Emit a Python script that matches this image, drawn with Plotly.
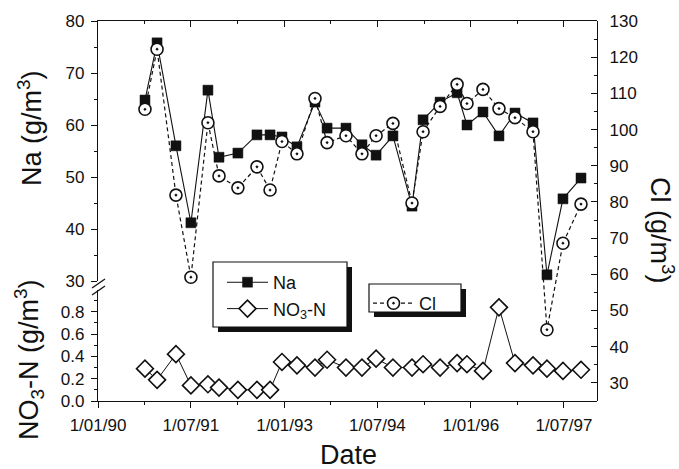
import plotly.graph_objects as go

# ---------------- data ----------------
dates = ["1990-10-04", "1990-12-14", "1991-04-04", "1991-07-01", "1991-10-09",
         "1991-12-13", "1992-04-02", "1992-07-23", "1992-10-08", "1992-12-17",
         "1993-03-15", "1993-06-29", "1993-09-08", "1993-12-28", "1994-04-01",
         "1994-06-23", "1994-09-30", "1995-01-20", "1995-03-26", "1995-07-04",
         "1995-10-12", "1995-12-09", "1996-03-12", "1996-06-14", "1996-09-16",
         "1996-12-31", "1997-03-23", "1997-06-25", "1997-10-09"]

na = [64.8, 75.8, 56.0, 41.2, 66.7, 53.8, 54.6, 58.1, 58.1, 57.7,
      55.8, 64.4, 59.4, 59.4, 56.2, 54.2, 57.9, 44.4, 61.0, 64.4,
      66.2, 60.0, 62.5, 57.9, 62.3, 60.4, 31.2, 45.8, 49.8]

cl = [105.6, 122.2, 81.9, 59.2, 101.9, 87.2, 83.9, 89.7, 83.3, 96.7,
      93.3, 108.6, 96.4, 98.3, 93.3, 98.3, 101.7, 79.7, 99.4, 106.4,
      112.5, 107.2, 111.1, 105.8, 103.3, 99.4, 44.7, 68.6, 79.4]

no3 = [0.29, 0.19, 0.42, 0.14, 0.15, 0.12, 0.10, 0.10, 0.10, 0.35,
       0.32, 0.30, 0.37, 0.30, 0.30, 0.38, 0.30, 0.30, 0.33, 0.30,
       0.34, 0.33, 0.27, 0.84, 0.34, 0.32, 0.29, 0.27, 0.28]

x_tickvals = ["1990-01-01", "1991-07-01", "1993-01-01", "1994-07-01", "1996-01-01", "1997-07-01"]
x_ticktext = ["1/01/90", "1/07/91", "1/01/93", "1/07/94", "1/01/96", "1/07/97"]
x_minor = ["1990-10-01", "1992-04-01", "1993-10-01", "1995-04-01", "1996-10-01"]
x_range = ["1990-01-01", "1998-01-11"]

na_ticks = [30, 40, 50, 60, 70, 80]
na_minor = [35, 45, 55, 65, 75]
no3_ticks = [0.0, 0.2, 0.4, 0.6, 0.8]
no3_minor = [0.1, 0.3, 0.5, 0.7, 0.9]
cl_ticks = [30, 40, 50, 60, 70, 80, 90, 100, 110, 120, 130]
cl_minor = [35, 45, 55, 65, 75, 85, 95, 105, 115, 125]

# ---------------- layout geometry ----------------
FW, FH = 679, 469
L, R, T, B = 98, 82, 21, 68
PW, PH = FW - L - R, FH - T - B
PLOT_BOTTOM = FH - B


def px2x(px):
    return (px - L) / PW


def py2y(py):
    return (PLOT_BOTTOM - py) / PH


FONT = "Arial, Liberation Sans, Helvetica, sans-serif"
BLACK = "#111111"

na_bottom_px = 281
no3_top_px = 289.5

fig = go.Figure()

fig.add_trace(go.Scatter(
    x=dates, y=na, name="Na", xaxis="x", yaxis="y",
    mode="lines+markers",
    line=dict(color=BLACK, width=1.1),
    marker=dict(symbol="square", size=10, color=BLACK, line=dict(color=BLACK, width=0.5)),
    legend="legend", legendrank=1,
))
fig.add_trace(go.Scatter(
    x=dates, y=no3, name="NO<sub>3</sub>-N", xaxis="x", yaxis="y2",
    mode="lines+markers",
    line=dict(color=BLACK, width=1.0),
    marker=dict(symbol="diamond", size=13, color="white", line=dict(color=BLACK, width=1.6)),
    legend="legend", legendrank=2,
))
fig.add_trace(go.Scatter(
    x=dates, y=cl, name="Cl", xaxis="x", yaxis="y3",
    mode="lines+markers",
    line=dict(color=BLACK, width=1.2, dash="4px,3px"),
    marker=dict(symbol="circle-dot", size=12, color="white", line=dict(color=BLACK, width=1.6)),
    legend="legend2",
))
# helper trace so the top (mirror) axis is drawn
fig.add_trace(go.Scatter(
    x=[x_range[0]], y=[None], xaxis="x2", yaxis="y", showlegend=False,
    hoverinfo="skip", mode="markers", marker=dict(opacity=0),
))

tickfont = dict(family=FONT, size=17, color=BLACK)

common_line = dict(showline=True, linecolor=BLACK, linewidth=1.3, showgrid=False,
                   zeroline=False, tickcolor=BLACK, tickwidth=1.2)

fig.update_layout(
    width=FW, height=FH,
    margin=dict(l=L, r=R, t=T, b=B, pad=0),
    paper_bgcolor="white", plot_bgcolor="rgba(0,0,0,0)",
    font=dict(family=FONT, color=BLACK),
    xaxis=dict(
        type="date", range=x_range, domain=[0, 1], anchor="y2",
        tickmode="array", tickvals=x_tickvals, ticktext=x_ticktext,
        ticks="outside", ticklen=6, tickfont=tickfont, ticklabelstandoff=2,
        minor=dict(tickmode="array", tickvals=x_minor, ticks="outside", ticklen=3,
                   tickcolor=BLACK, tickwidth=1.2),
        **common_line,
    ),
    xaxis2=dict(
        type="date", range=x_range, overlaying="x", anchor="y", side="top",
        tickmode="array", tickvals=x_tickvals, showticklabels=False,
        ticks="inside", ticklen=6,
        minor=dict(tickmode="array", tickvals=x_minor, ticks="inside", ticklen=3,
                   tickcolor=BLACK, tickwidth=1.2),
        **common_line,
    ),
    yaxis=dict(
        domain=[py2y(na_bottom_px), 1], range=[30, 80], anchor="x",
        tickmode="array", tickvals=na_ticks, ticks="outside", ticklen=6,
        tickfont=tickfont, ticklabelstandoff=3,
        minor=dict(tickmode="array", tickvals=na_minor, ticks="outside", ticklen=3,
                   tickcolor=BLACK, tickwidth=1.2),
        **common_line,
    ),
    yaxis2=dict(
        domain=[0, py2y(no3_top_px)], range=[0, 1.0], anchor="x",
        tickmode="array", tickvals=no3_ticks, tickformat=".1f",
        ticks="outside", ticklen=6, tickfont=tickfont, ticklabelstandoff=3,
        minor=dict(tickmode="array", tickvals=no3_minor, ticks="outside", ticklen=3,
                   tickcolor=BLACK, tickwidth=1.2),
        **common_line,
    ),
    yaxis3=dict(
        domain=[0, 1], range=[25, 130], anchor="x", side="right",
        tickmode="array", tickvals=cl_ticks, ticks="inside", ticklen=6,
        tickfont=tickfont, ticklabelstandoff=8,
        minor=dict(tickmode="array", tickvals=cl_minor, ticks="inside", ticklen=3,
                   tickcolor=BLACK, tickwidth=1.2),
        **common_line,
    ),
    legend=dict(
        x=px2x(222), y=py2y(264), xanchor="left", yanchor="top",
        bgcolor="rgba(0,0,0,0)", borderwidth=0,
        font=dict(family=FONT, size=18, color=BLACK),
        itemwidth=41, tracegroupgap=0,
    ),
    legend2=dict(
        x=px2x(368), y=py2y(285), xanchor="left", yanchor="top",
        bgcolor="rgba(0,0,0,0)", borderwidth=0,
        font=dict(family=FONT, size=18, color=BLACK),
        itemwidth=41,
    ),
    showlegend=True,
)

shapes = []
# legend boxes with drop shadows
for (x0, y0, x1, y1) in [(213, 262, 347, 327), (369, 284, 461, 312)]:
    shapes.append(dict(type="rect", xref="paper", yref="paper", layer="above",
                       x0=px2x(x0 + 5), x1=px2x(x1 + 5), y0=py2y(y0 + 5), y1=py2y(y1 + 5),
                       fillcolor=BLACK, line=dict(width=0)))
    shapes.append(dict(type="rect", xref="paper", yref="paper", layer="above",
                       x0=px2x(x0), x1=px2x(x1), y0=py2y(y0), y1=py2y(y1),
                       fillcolor="white", line=dict(color=BLACK, width=1.2)))
# axis break marks
for dy in (0, 7):
    shapes.append(dict(type="line", xref="paper", yref="paper", layer="above",
                       x0=px2x(92), y0=py2y(288 + dy), x1=px2x(105), y1=py2y(279 + dy),
                       line=dict(color=BLACK, width=1.3)))
fig.update_layout(shapes=shapes)

title_font = dict(family=FONT, size=27, color=BLACK)
annotations = [
    dict(text="Na (g/m<sup>3</sup>)", x=px2x(30), y=py2y(128), textangle=-90),
    dict(text="NO<sub>3</sub>-N (g/m<sup>3</sup>)", x=px2x(29), y=py2y(360), textangle=-90),
    dict(text="Cl (g/m<sup>3</sup>)", x=px2x(662), y=py2y(230), textangle=90),
    dict(text="Date", x=px2x(348), y=py2y(455), textangle=0),
]
for a in annotations:
    a.update(xref="paper", yref="paper", showarrow=False, font=title_font,
             xanchor="center", yanchor="middle")
fig.update_layout(annotations=annotations)

fig.write_html("out.html")
